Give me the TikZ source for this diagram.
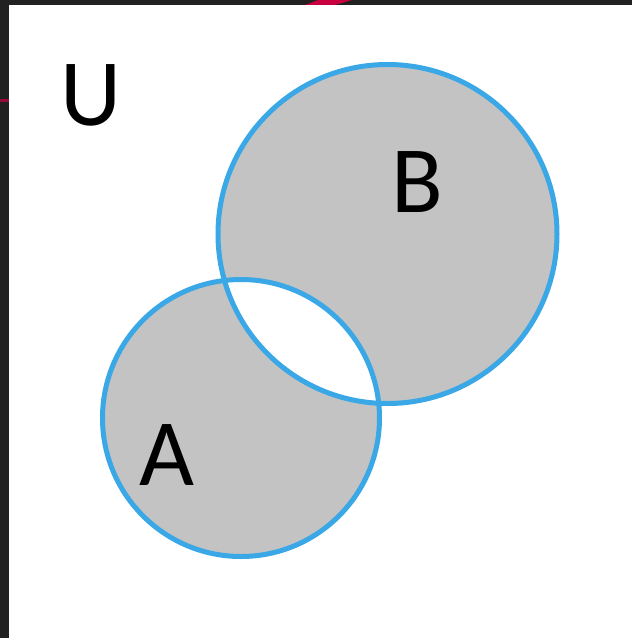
\documentclass[tikz,border=0pt]{standalone}
\usepackage{fontspec}
\setmainfont{Carlito}
\definecolor{frame}{HTML}{212121}
\definecolor{setfill}{HTML}{C3C3C3}
\definecolor{setline}{HTML}{3AA8E6}
\definecolor{streak}{HTML}{C8003F}
\begin{document}
\begin{tikzpicture}[x=1pt,y=-1pt,
  setcircle/.style={draw=setline,line width=5pt},
  setlabel/.style={font=\fontsize{95}{95}\selectfont,text=black,inner sep=0pt}]
\useasboundingbox (0,0) rectangle (632,638);
% frame
\fill[frame] (0,0) rectangle (632,5);
\fill[frame] (0,0) rectangle (9,638);
\fill[streak] (305,5) -- (318,0) -- (352,0) -- (335,5) -- cycle;
\fill[streak!70!frame] (0,99) rectangle (9,102);
\fill[white] (9,5) rectangle (632,638);
% sets
\fill[setfill,even odd rule] (387.5,234) circle[radius=169.5] (241,418) circle[radius=138.5];
\node[setcircle,circle,minimum size=339pt,inner sep=0pt] (B) at (387.5,234) {};
\node[setcircle,circle,minimum size=277pt,inner sep=0pt] (A) at (241,418) {};
% labels
\node[setlabel,anchor=base] (U) at (91,125) {U};
\node[setlabel,anchor=base] (Blab) at (417,212) {B};
\node[setlabel,anchor=base] (Alab) at (167,485) {A};
\end{tikzpicture}
\end{document}
